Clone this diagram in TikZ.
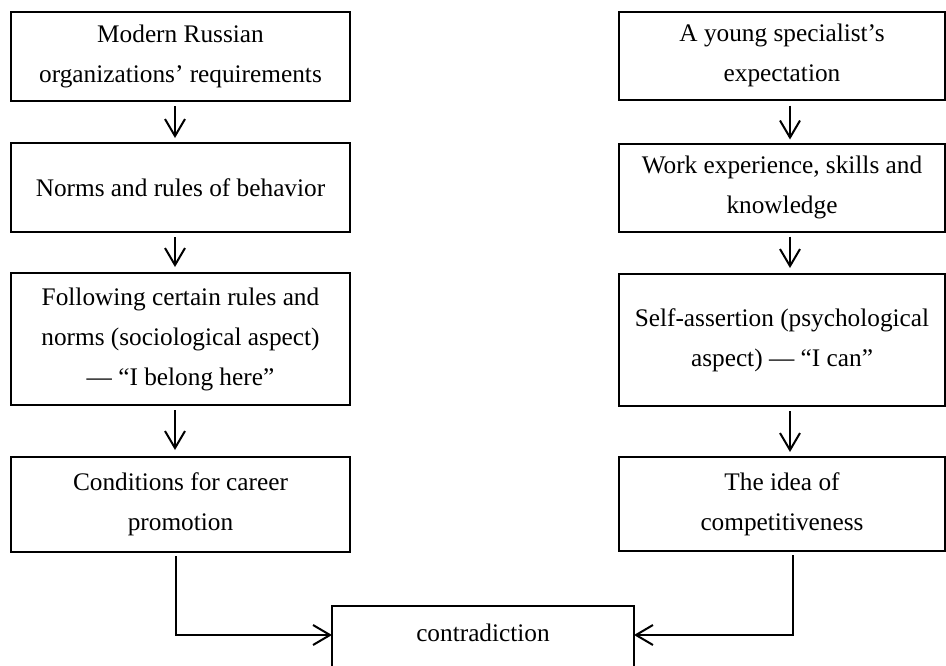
\documentclass[tikz,border=0pt]{standalone}
\usepackage{fontspec}
\setmainfont{Liberation Serif}
\usetikzlibrary{arrows.meta}
\begin{document}
\begin{tikzpicture}[x=1pt,y=-1pt,
  box/.style={draw,line width=2pt,inner sep=0pt,align=center,
    font=\fontsize{25.3}{40}\selectfont},
  lbox/.style={box,minimum width=339pt},
  rbox/.style={box,minimum width=326pt},
  arr/.style={line width=2pt,-{Straight Barb[length=17pt,width=20pt,line width=2pt]}}]
\clip (0,0) rectangle (946,665);
\fill[white] (0,0) rectangle (946,665);
% left column
\node[lbox,minimum height=89pt] (L1) at (180.5,56.5) {Modern Russian\\organizations’ requirements};
\node[lbox,minimum height=89pt] (L2) at (180.5,187.5) {Norms and rules of behavior};
\node[lbox,minimum height=132pt] (L3) at (180.5,339) {Following certain rules and\\norms (sociological aspect)\\— “I belong here”};
\node[lbox,minimum height=95pt] (L4) at (180.5,504.5) {Conditions for career\\promotion};
% right column
\node[rbox,minimum height=88pt] (R1) at (782,55.5) {A young specialist’s\\expectation};
\node[rbox,minimum height=88pt] (R2) at (782,187.5) {Work experience, skills and\\knowledge};
\node[rbox,minimum height=132pt] (R3) at (782,340) {Self-assertion (psychological\\aspect) — “I can”};
\node[rbox,minimum height=94pt] (R4) at (782,504) {The idea of\\competitiveness};
% contradiction
\node[box,draw=none,minimum width=300pt,minimum height=52pt] (C) at (483,633) {contradiction};
\draw[line width=2pt] ([yshift=-30pt]C.south west) |- (C.north east) -- ([yshift=-30pt]C.south east);
% arrows left
\draw[arr] ([shift={(-5.5pt,-4pt)}]L1.south) -- ([shift={(-5.5pt,4pt)}]L2.north);
\draw[arr] ([shift={(-5.5pt,-4pt)}]L2.south) -- ([shift={(-5.5pt,5pt)}]L3.north);
\draw[arr] ([shift={(-5.5pt,-4pt)}]L3.south) -- ([shift={(-5.5pt,6pt)}]L4.north);
% arrows right
\draw[arr] ([shift={(8pt,-5pt)}]R1.south) -- ([shift={(8pt,3pt)}]R2.north);
\draw[arr] ([shift={(8pt,-4pt)}]R2.south) -- ([shift={(8pt,5pt)}]R3.north);
\draw[arr] ([shift={(8pt,-4pt)}]R3.south) -- ([shift={(8pt,4pt)}]R4.north);
% to contradiction
\draw[arr] ([shift={(-4.5pt,-3pt)}]L4.south) |- ([yshift=-2pt]C.west);
\draw[arr] ([shift={(11pt,-3pt)}]R4.south) |- ([yshift=-2pt]C.east);
\end{tikzpicture}
\end{document}
